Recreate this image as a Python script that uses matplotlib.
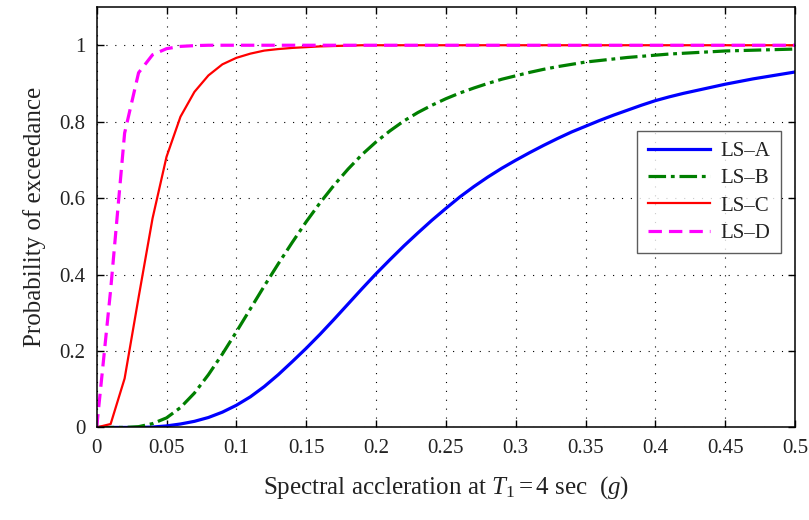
import numpy as np
import matplotlib.pyplot as plt
from matplotlib.ticker import FormatStrFormatter

plt.rcParams['font.family'] = 'Liberation Serif'
plt.rcParams['mathtext.fontset'] = 'custom'
plt.rcParams['mathtext.rm'] = 'Liberation Serif'
plt.rcParams['mathtext.it'] = 'Liberation Serif:italic'

# spectral acceleration grid (g)
sa = np.round(np.arange(0, 0.505, 0.01), 2)

# probability of exceedance for each limit state
ls_a = [0, 0, 0, 0, 0.001, 0.004, 0.009, 0.016, 0.026, 0.040,
        0.058, 0.080, 0.107, 0.138, 0.172, 0.207, 0.244, 0.283, 0.323, 0.363,
        0.402, 0.439, 0.475, 0.509, 0.542, 0.573, 0.603, 0.630, 0.655, 0.678,
        0.699, 0.719, 0.738, 0.756, 0.773, 0.788, 0.803, 0.817, 0.830, 0.843,
        0.855, 0.865, 0.874, 0.882, 0.890, 0.898, 0.905, 0.912, 0.918, 0.924,
        0.930]
ls_b = [0, 0, 0, 0.002, 0.010, 0.025, 0.052, 0.090, 0.138, 0.192,
        0.250, 0.310, 0.370, 0.428, 0.484, 0.538, 0.588, 0.634, 0.676, 0.714,
        0.747, 0.776, 0.802, 0.824, 0.843, 0.860, 0.875, 0.888, 0.900, 0.911,
        0.920, 0.929, 0.937, 0.944, 0.950, 0.956, 0.960, 0.964, 0.968, 0.971,
        0.974, 0.977, 0.979, 0.981, 0.983, 0.985, 0.986, 0.987, 0.988, 0.989,
        0.990]
ls_c = [0, 0.009, 0.128, 0.340, 0.547, 0.708, 0.813, 0.878, 0.921, 0.950,
        0.967, 0.978, 0.986, 0.990, 0.993, 0.995, 0.997, 0.998, 0.999, 1.0,
        1.0, 1.0, 1.0, 1.0, 1.0, 1.0, 1.0, 1.0, 1.0, 1.0,
        1.0, 1.0, 1.0, 1.0, 1.0, 1.0, 1.0, 1.0, 1.0, 1.0,
        1.0, 1.0, 1.0, 1.0, 1.0, 1.0, 1.0, 1.0, 1.0, 1.0,
        1.0]
ls_d = [0, 0.360, 0.770, 0.928, 0.975, 0.991, 0.997, 0.999, 1.0, 1.0,
        1.0, 1.0, 1.0, 1.0, 1.0, 1.0, 1.0, 1.0, 1.0, 1.0,
        1.0, 1.0, 1.0, 1.0, 1.0, 1.0, 1.0, 1.0, 1.0, 1.0,
        1.0, 1.0, 1.0, 1.0, 1.0, 1.0, 1.0, 1.0, 1.0, 1.0,
        1.0, 1.0, 1.0, 1.0, 1.0, 1.0, 1.0, 1.0, 1.0, 1.0,
        1.0]

fig = plt.figure(figsize=(8.09, 5.2), dpi=100)
ax = fig.add_axes([0.1195, 0.178, 0.8632, 0.8085])

ax.plot(sa, ls_a, color='#0000ff', lw=2.3, label='LS–A')
ax.plot(sa, ls_b, color='#007f00', lw=2.3, dashes=(5.5, 1.5, 1.2, 1.5),
        label='LS–B')
ax.plot(sa, ls_c, color='#ff0000', lw=1.6, label='LS–C')
ax.plot(sa, ls_d, color='#ff00ff', lw=2.3, dashes=(4.2, 2.2), label='LS–D')

ax.set_xlim(0, 0.5)
ax.set_ylim(0, 1.1)
ax.set_xticks(np.arange(0, 0.51, 0.05))
ax.set_yticks(np.arange(0, 1.01, 0.2))
ax.xaxis.set_major_formatter(FormatStrFormatter('%g'))
ax.yaxis.set_major_formatter(FormatStrFormatter('%g'))
ax.tick_params(direction='in', top=True, right=True, length=5, width=1,
               labelsize=15, labelcolor='#222222', pad=8)
for s in ax.spines.values():
    s.set_linewidth(1.1)
ax.grid(True, color='black', linestyle=(0, (1, 7)), linewidth=0.8)

ax.set_xlabel('Spectral accleration at $T_1 = 4$ sec  ($g$)', fontsize=18,
              color='#222222', labelpad=12)
ax.set_ylabel('Probability of exceedance', fontsize=18, color='#222222',
              labelpad=10)

leg = ax.legend(loc='upper right', bbox_to_anchor=(0.98, 0.705), fontsize=15,
                frameon=True, fancybox=False, handlelength=3.0,
                borderaxespad=0, labelspacing=0.37, handletextpad=0.5,
                borderpad=0.5)
leg.get_frame().set_edgecolor('#333333')
leg.get_frame().set_linewidth(1.0)
for t in leg.get_texts():
    t.set_color('#222222')

fig.savefig('out.png', dpi=100)
